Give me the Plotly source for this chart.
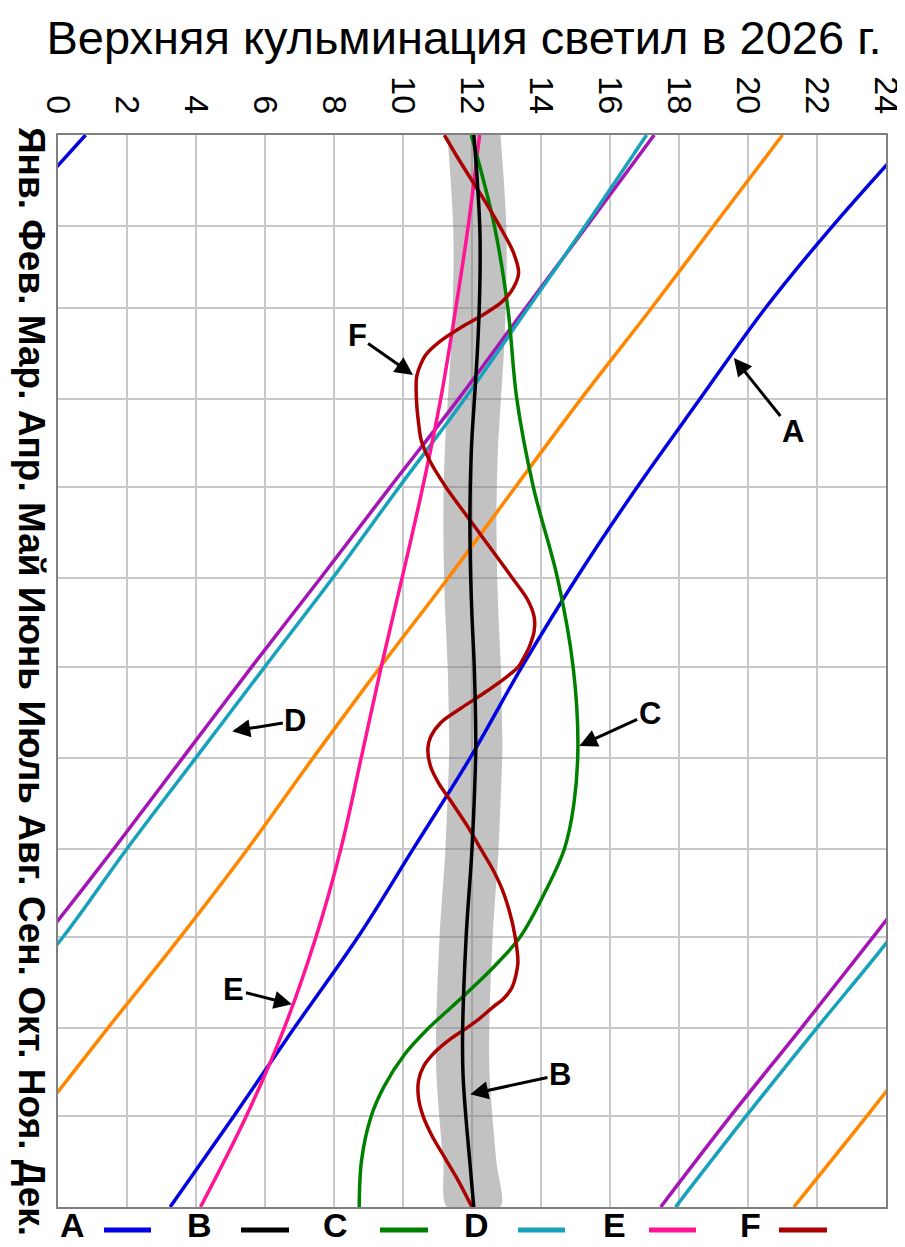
import plotly.graph_objects as go

# ---------------- data (day of year 0 = 1 Jan, hours of upper culmination) ----------------
month_names = ["Янв.", "Фев.", "Мар.", "Апр.", "Май", "Июнь", "Июль", "Авг.", "Сен.", "Окт.", "Ноя.", "Дек."]
month_starts = [0, 31, 59, 90, 120, 151, 181, 212, 243, 273, 304, 334, 365]
hour_ticks = list(range(0, 25, 2))

days_m = [0, 31, 59, 90, 120, 151, 181, 212, 243, 273, 304, 334, 365]

# A (blue)
a_days = days_m
a_hours = [24.8, 22.45, 20.5, 18.6, 16.78, 15.02, 13.45, 11.95, 10.3, 8.7, 6.85, 5.1, 3.25]

# B (black, the Sun)
b_days = [0, 15, 31, 42, 59, 75, 90, 105, 120, 134, 151, 164, 181, 206, 212, 243, 273, 306, 320, 334, 350, 365]
b_hours = [12.055, 12.15, 12.225, 12.237, 12.21, 12.15, 12.07, 11.99, 11.95, 11.94, 11.963, 12.0, 12.065,
           12.11, 12.105, 12.0, 11.83, 11.727, 11.74, 11.82, 11.94, 12.05]

# C (green)
c_days = [0, 31, 59, 90, 120, 151, 181, 208, 228, 243, 257, 273, 283, 291, 297, 304, 313, 324, 334, 349, 365]
c_hours = [11.98, 12.65, 13.04, 13.3, 13.78, 14.48, 14.93, 15.07, 14.95, 14.68, 14.15, 13.4, 12.65, 11.95,
           11.4, 10.75, 10.05, 9.45, 9.08, 8.8, 8.73]

# D (teal)
d_days = days_m
d_hours = [17.06, 15.28, 13.62, 11.78, 9.88, 7.95, 6.0, 4.0, 2.0, 0.15, -2.0, -4.05, -6.1]

# E (pink)
e_days = days_m
e_hours = [12.22, 11.89, 11.53, 11.09, 10.57, 9.97, 9.37, 8.79, 8.2, 7.48, 6.56, 5.46, 4.13]

# F (dark red)
f_days = [0, 8, 15.5, 23, 31, 40, 47, 53, 57, 61, 65, 70, 75, 82, 90, 98, 104, 111, 120, 127, 134, 142,
          151, 158, 164, 169, 174, 178, 181, 185, 190, 195, 200, 205, 209, 215, 221, 227, 235, 243, 250,
          257, 265, 273, 282, 290, 294, 297, 301, 304, 308, 312, 317, 322, 328, 334, 341, 348, 356, 365]
f_hours = [11.2, 11.6, 12.0, 12.4, 12.8, 13.2, 13.35, 13.15, 12.85, 12.35, 11.75, 11.1, 10.65, 10.4, 10.39,
           10.45, 10.53, 10.78, 11.25, 11.68, 12.12, 12.62, 13.18, 13.6, 13.8, 13.8, 13.67, 13.5, 13.35,
           12.95, 12.35, 11.7, 11.1, 10.8, 10.72, 10.8, 11.05, 11.4, 11.85, 12.25, 12.6, 12.88, 13.1, 13.25,
           13.33, 13.17, 12.92, 12.6, 12.2, 11.85, 11.35, 10.95, 10.6, 10.45, 10.45, 10.58, 10.85, 11.2,
           11.6, 12.0]

# two unlabelled series
orange_days = days_m
orange_hours = [21.0, 19.0, 17.2, 15.15, 13.25, 11.3, 9.35, 7.4, 5.5, 3.55, 1.45, -0.55, -2.67]
purple_days = days_m
purple_hours = [17.28, 15.33, 13.55, 11.6, 9.62, 7.6, 5.62, 3.62, 1.62, -0.37, -2.45, -4.5, -6.53]

sun_band_half = 0.77  # hours around the Sun

legend_letters = ["A", "B", "C", "D", "E", "F"]

# ---------------- styles ----------------
COL = {
    "A": "rgb(0,0,225)",
    "B": "rgb(0,0,0)",
    "C": "rgb(0,128,0)",
    "D": "rgb(22,162,186)",
    "E": "rgb(255,20,150)",
    "F": "rgb(170,0,0)",
    "orange": "rgb(255,135,0)",
    "purple": "rgb(165,20,180)",
}
LW = 3.5
FONT = "Liberation Sans, Arial, sans-serif"

fig = go.Figure()

# grey band around the Sun
band_x = [h - sun_band_half for h in b_hours] + [h + sun_band_half for h in reversed(b_hours)]
band_y = list(b_days) + list(reversed(b_days))
fig.add_trace(go.Scatter(x=band_x, y=band_y, mode="lines", fill="toself",
                         fillcolor="rgba(120,120,120,0.45)", line=dict(width=0, shape="spline", smoothing=0.8),
                         hoverinfo="skip", showlegend=False))


def add_wrapped(days, hours, color, smoothing=1.0):
    for shift in (-24, 0, 24):
        vals = [h + shift for h in hours]
        if max(vals) < 0 or min(vals) > 24:
            continue
        fig.add_trace(go.Scatter(x=vals, y=days, mode="lines",
                                 line=dict(color=color, width=LW, shape="spline", smoothing=smoothing),
                                 hoverinfo="skip", showlegend=False))


add_wrapped(orange_days, orange_hours, COL["orange"])
add_wrapped(purple_days, purple_hours, COL["purple"])
add_wrapped(d_days, d_hours, COL["D"])
add_wrapped(a_days, a_hours, COL["A"])
add_wrapped(e_days, e_hours, COL["E"])
add_wrapped(c_days, c_hours, COL["C"])
add_wrapped(f_days, f_hours, COL["F"], smoothing=0.8)
add_wrapped(b_days, b_hours, COL["B"])

# ---------------- layout ----------------
# page coordinates (the page body has an 8 px margin)
OFF = 8
W, H = 905 - OFF, 1247 - OFF
PL, PR, PT, PB = 58, 886, 135, 1207


def px(x):
    return (x - PL) / (PR - PL)


def py(y):
    return (PB - y) / (PB - PT)


fig.update_layout(
    width=W, height=H, autosize=False,
    margin=dict(l=PL - OFF, r=W - (PR - OFF), t=PT - OFF, b=H - (PB - OFF), pad=0, autoexpand=False),
    paper_bgcolor="white", plot_bgcolor="white",
    font=dict(family=FONT, color="black"),
    title=dict(text="Верхняя кульминация светил в 2026 г.", x=(464 - OFF) / W, xanchor="center",
               y=1 - (38 - OFF) / H, yanchor="middle", yref="container", xref="container",
               font=dict(size=47, family=FONT, color="black")),
    showlegend=False,
)

fig.update_xaxes(range=[0, 24], side="top", tickmode="array", tickvals=hour_ticks,
                 ticktext=[str(t) for t in hour_ticks], tickangle=90, ticklabeloverflow="allow",
                 automargin=False,
                 tickfont=dict(size=34, family=FONT, color="black"),
                 showgrid=True, gridcolor="rgb(200,200,200)", gridwidth=2,
                 zeroline=False, showline=True, mirror=True, linecolor="rgb(128,128,128)", linewidth=2,
                 ticks="outside", ticklen=7, tickcolor="rgba(0,0,0,0)")
fig.update_yaxes(range=[365, 0], tickmode="array", tickvals=month_starts, showticklabels=False,
                 automargin=False,
                 showgrid=True, gridcolor="rgb(200,200,200)", gridwidth=2,
                 zeroline=False, showline=True, mirror=True, linecolor="rgb(128,128,128)", linewidth=2,
                 ticks="")

annotations = []
# month labels (one rotated line of text)
annotations.append(dict(text="<b>" + " ".join(month_names) + "</b>", xref="paper", yref="paper",
                        x=px(31), y=py(681), xanchor="center", yanchor="middle",
                        textangle=90, showarrow=False,
                        font=dict(size=37, family=FONT, color="black")))

# arrow callouts: (letter, tip hour, tip day, text hour, text day)
callouts = [
    ("A", 19.59, 75.9, 21.3, 101.0),
    ("B", 11.95, 326.6, 14.55, 320.0),
    ("C", 15.11, 208.0, 17.15, 197.0),
    ("D", 5.05, 203.0, 6.88, 199.5),
    ("E", 6.78, 296.0, 5.1, 291.0),
    ("F", 10.29, 81.7, 8.67, 68.4),
]
for letter, tx, ty, lx, ly in callouts:
    annotations.append(dict(text="<b>%s</b>" % letter, x=tx, y=ty, xref="x", yref="y",
                            ax=lx, ay=ly, axref="x", ayref="y", showarrow=True,
                            arrowhead=2, arrowsize=1.2, arrowwidth=3, arrowcolor="black",
                            font=dict(size=31, family=FONT, color="black")))

# custom legend: letter then line swatch
leg_letter_x = [72, 199, 335, 476, 614, 750]
leg_swatch = [(104, 151), (241, 289), (380, 428), (518, 565), (649, 696), (779, 827)]
leg_y = 1230
shapes = []
for i, letter in enumerate(legend_letters):
    annotations.append(dict(text="<b>%s</b>" % letter, xref="paper", yref="paper",
                            x=px(leg_letter_x[i]), y=py(1225), xanchor="center", yanchor="middle",
                            showarrow=False, font=dict(size=34, family=FONT, color="black")))
    x0, x1 = leg_swatch[i]
    shapes.append(dict(type="line", xref="paper", yref="paper", x0=px(x0), x1=px(x1),
                       y0=py(leg_y), y1=py(leg_y), line=dict(color=COL[letter], width=5)))

fig.update_layout(annotations=annotations, shapes=shapes)

fig.write_html("out.html")
